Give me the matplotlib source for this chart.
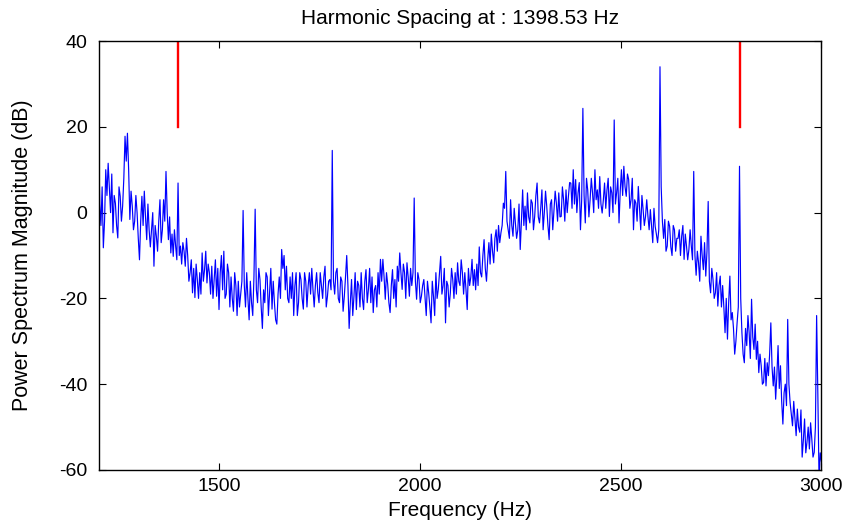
import matplotlib
matplotlib.use('Agg')
import matplotlib.pyplot as plt
import numpy as np

plt.rcParams['font.family'] = ['Liberation Sans', 'DejaVu Sans']
plt.rcParams['axes.unicode_minus'] = False

# spectrum magnitude (dB), one sample every 3 Hz from 1200 Hz
freq_start = 1200
freq_step = 3

mag_1200 = [20, 2, -3, 6, -8.2, -2, 10, 4, 11.5, 6, 0, 9, -4.7, 4, 2.2, -3, -5.9, 6, 3.8, -2,
            1.5, 8, 17.8, 12, 18.5, 10, -1.6, 5, 1.5, -4, -2, 4, 0, -6, -11, -2, 3.8, -3, 5, -1,
            -6.3, 2, -4, -8, -4, 0, -12.5, -3, -5.5, -9, -2, 3, -7, -4, 3, -2, 9.6, 0, -6.3, -1,
            -9.4, -5, -10.2, -4, -7.8, -11, 6.9, -10, -7.8, -12, -7, -9, -12.5, -6, -10, -16, -14, -11, -18.7, -13,
            -19.8, -12, -15.6, -20, -14, -19, -9.4, -16, -13.3, -9, -16.4, -12, -14, -19, -12.5, -20, -15.6, -11, -19.5, -13,
            -22.6, -14, -10, -18]
mag_1512 = [-9, -20, -19, -12, -14, -22, -15, -20, -23, -14, -17, -24, -16, -22, -19, -16, 0.5, -17, -22, -14,
            -20, -25, -16, -21, -24, -15, 0.8, -18, -21, -13, -15.6, -22, -27, -18, -21, -14, -15, -24, -18.7, -13,
            -22.5, -16, -21, -25, -26, -19, -15, -20, -8.6, -13, -10, -18, -12.5, -20, -21, -15, -20, -14, -24, -17,
            -14, -24, -21, -14, -15.6, -20, -22.5, -14, -16, -22, -17, -14, -19, -13, -18, -22, -17, -14, -18.7, -21,
            -14, -17, -20, -15, -12.5, -22, -19.5, -16, -15.6, -18, 14.5, -16, -19, -14, -13, -20, -21, -15, -16, -23,
            -19.5, -15, -10, -17]
mag_1824 = [-27, -21, -15.6, -24, -19.5, -14, -22.6, -16, -17, -22, -14, -20, -22.6, -16, -13.3, -21, -17.9, -13, -21, -15,
            -23.3, -18, -17, -22, -14, -19, -10.9, -16, -10.9, -15, -20.2, -14, -16.7, -21, -23.3, -17, -13.3, -20, -15.6, -22,
            -12.5, -16, -9.4, -14, -17.9, -12, -14, -20, -11.7, -15, -19.5, -13, -17, -14, 3.4, -16, -20.2, -14, -15.6, -21,
            -19.5, -17, -15.6, -20, -24, -16, -18.7, -22, -25.7, -16, -19.5, -24, -14, -20, -17.9, -14, -10.2, -19, -17, -13,
            -25.7, -16, -17, -22, -18.7, -13, -15.6, -20, -14, -19, -11.7, -16, -17, -11, -14, -19, -14, -18, -22.6, -13,
            -17, -15, -10.9, -17, -13.3, -18]
mag_2142 = [-12, -17, -8, -14, -15, -10, -6.3, -13, -16, -11, -7, -12, -5, -9, -11.7, -6, -4, -9, -3, -7,
            -4.7, -3, 2.2, 1, 9.6, -2, -4, -6, 3, -3, -5.5, 1, -2.4, -6, -4, 2, -8.6, -2, 5.3, -3,
            1.5, -4, 4.6, -1, -2.4, 3, 2.2, -4, -0.9, 4, 6.9, -1, -2.4, 1, 5.3, -4, 0, 5, 1.5, -3,
            -6.3, 2, 3, -4, 0.7, 5, 2.2, -2, 4.6, -1, -0.9, 6, 3, -2, 5.3, 0, 3.8, 7, 6.9, 1,
            10, 2, 7.7, 0, 4.6, 7, -4, 3, 24.3, 4, -2.4, 8, 5.3, -1, 3, 8, 4.6, 0, 10, 3,
            5.3, 1, 8.4, 2]
mag_2454 = [-0.1, 3, 6.9, 1, 5.3, 8, -0.9, 6, 4.6, 0, 21.6, 2, 4.6, 8, -2.4, 5, 10, 4, 10.8, 6,
            3.8, 9, 7.7, 1, 3, 8, -4, 3, 2.2, -2, 6.1, 1, -4, 4, 0.7, -3, -0.9, 3, -0.9, -4,
            0.7, -3, -7, 1, -3.2, -5, -7, -4, 34, 6, -2, -6, -1.6, -9, -7.8, -2, -3.2, -8, -10, -3,
            -4, -9, -6, -6, -4, -10, -5.5, -3, -10.9, -5, -7.8, -11, -8.6, -4, -7.8, -11, 9.6, -10, -14.6, -9,
            -11.7, -16, -5.5, -10, -13.3, -7, -14.8, -9, 2.6, -16, -18.7, -13, -15.6, -20, -18.7, -14, -21.8, -17, -14.8, -22]
mag_2754 = [-17, -22, -28, -20, -29.5, -21, -14.8, -25, -23.3, -27, -33, -30, -25.7, -22, 10.8, -20, -28, -33, -35, -27,
            -31, -24, -28, -34, -20.2, -29, -31.9, -26, -34.2, -30, -37.3, -33, -35.7, -40, -39.6, -34, -40.4, -35, -38, -33,
            -25.7, -36, -40.4, -36, -43.5, -38, -31, -41, -35.7, -44, -49.3, -42, -40, -45, -24.9, -40, -44.3, -47, -49.7, -44,
            -48.1, -52, -45.8, -50, -51.2, -46, -57, -53, -48.1, -56, -53.5, -50, -55.1, -49, -52.8, -57, -55.9, -50, -24, -42,
            -62, -56, -58]

harmonic_spacing = 1398.53
harmonics = [harmonic_spacing, 2 * harmonic_spacing]
marker_db = [20, 40]

mag = np.array(mag_1200 + mag_1512 + mag_1824 + mag_2142 + mag_2454 + mag_2754)
freq = freq_start + freq_step * np.arange(len(mag))

fig = plt.figure(figsize=(8.53, 5.26), dpi=100)
ax = fig.add_axes([0.1155, 0.1065, 0.8475, 0.8155])

ax.plot(freq, mag, color=(0, 0, 1), lw=0.85)
for h in harmonics:
    ax.plot([h, h], marker_db, color=(1, 0, 0), lw=1.7)

ax.set_xlim(1200, 3000)
ax.set_ylim(-60, 40)
ax.set_xticks([1500, 2000, 2500, 3000])
ax.set_yticks(np.arange(-60, 41, 20))
ax.tick_params(direction='in', top=True, right=True, length=5, width=0.8,
               labelsize=14)
ax.tick_params(axis='y', pad=8)
ax.tick_params(axis='x', pad=6)
for s in ax.spines.values():
    s.set_linewidth(1.0)

ax.set_title('Harmonic Spacing at : 1398.53 Hz', fontsize=15, pad=12)
ax.set_xlabel('Frequency (Hz)', fontsize=15, labelpad=4)
ax.set_ylabel('Power Spectrum Magnitude (dB)', fontsize=15.5, labelpad=19)

fig.savefig('out.png', dpi=100)
